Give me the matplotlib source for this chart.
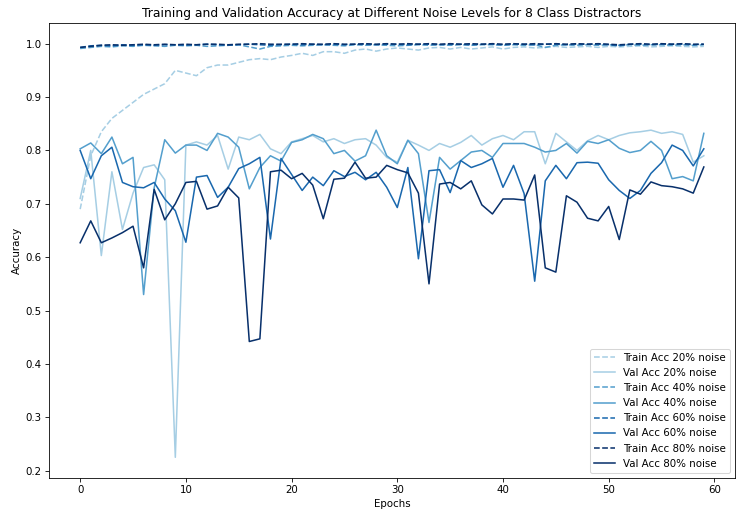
import numpy as np
import matplotlib
matplotlib.use("Agg")
import matplotlib.pyplot as plt

epochs = list(range(60))
noise_levels = ["20%", "40%", "60%", "80%"]

train_20 = [0.69, 0.79, 0.835, 0.86, 0.875, 0.89, 0.905, 0.915, 0.925, 0.95,
            0.945, 0.94, 0.955, 0.96, 0.96, 0.965, 0.97, 0.972, 0.97, 0.975,
            0.978, 0.982, 0.978, 0.985, 0.985, 0.982, 0.988, 0.99, 0.986, 0.99,
            0.992, 0.99, 0.988, 0.992, 0.993, 0.99, 0.993, 0.99, 0.992, 0.994,
            0.99, 0.993, 0.994, 0.992, 0.993, 0.995, 0.993, 0.994, 0.995, 0.993,
            0.995, 0.994, 0.995, 0.996, 0.994, 0.995, 0.996, 0.995, 0.994, 0.995]
val_20 = [0.71, 0.80, 0.603, 0.76, 0.652, 0.72, 0.768, 0.773, 0.745, 0.225,
          0.81, 0.816, 0.81, 0.828, 0.765, 0.825, 0.82, 0.83, 0.803, 0.794,
          0.816, 0.822, 0.828, 0.816, 0.822, 0.813, 0.82, 0.822, 0.81, 0.787,
          0.778, 0.819, 0.81, 0.80, 0.813, 0.806, 0.815, 0.828, 0.81, 0.822,
          0.828, 0.82, 0.835, 0.835, 0.775, 0.832, 0.816, 0.80, 0.818, 0.828,
          0.82, 0.828, 0.833, 0.835, 0.838, 0.832, 0.835, 0.83, 0.778, 0.79]
train_40 = [0.991, 0.993, 0.995, 0.994, 0.996, 0.995, 0.997, 0.996, 0.995, 0.997,
            0.996, 0.997, 0.995, 0.996, 0.997, 0.998, 0.994, 0.99, 0.995, 0.996,
            0.997, 0.996, 0.997, 0.998, 0.997, 0.996, 0.998, 0.997, 0.998, 0.997,
            0.996, 0.997, 0.998, 0.997, 0.998, 0.997, 0.998, 0.997, 0.998, 0.998,
            0.997, 0.998, 0.997, 0.998, 0.993, 0.997, 0.998, 0.997, 0.998, 0.997,
            0.998, 0.997, 0.998, 0.997, 0.998, 0.998, 0.997, 0.998, 0.997, 0.998]
val_40 = [0.803, 0.814, 0.794, 0.825, 0.775, 0.787, 0.53, 0.73, 0.82, 0.795,
          0.81, 0.81, 0.80, 0.832, 0.825, 0.806, 0.728, 0.768, 0.79, 0.78,
          0.815, 0.82, 0.83, 0.822, 0.794, 0.80, 0.78, 0.79, 0.838, 0.79,
          0.775, 0.819, 0.794, 0.665, 0.787, 0.765, 0.781, 0.797, 0.80, 0.787,
          0.813, 0.813, 0.813, 0.806, 0.797, 0.80, 0.813, 0.795, 0.817, 0.813,
          0.82, 0.804, 0.796, 0.80, 0.817, 0.80, 0.747, 0.751, 0.743, 0.832]
train_60 = [0.993, 0.996, 0.997, 0.996, 0.998, 0.997, 0.998, 0.997, 0.998, 0.998,
            0.997, 0.998, 0.999, 0.998, 0.997, 0.998, 0.999, 0.998, 0.997, 0.998,
            0.999, 0.998, 0.999, 0.998, 0.999, 0.998, 0.999, 0.999, 0.998, 0.999,
            0.999, 0.998, 0.999, 0.999, 0.998, 0.999, 0.999, 0.998, 0.999, 0.999,
            0.998, 0.999, 0.999, 0.998, 0.999, 0.999, 0.998, 0.999, 0.999, 0.999,
            0.998, 0.996, 0.999, 0.999, 0.998, 0.999, 0.999, 0.999, 0.998, 0.999]
val_60 = [0.80, 0.747, 0.79, 0.806, 0.74, 0.732, 0.73, 0.74, 0.709, 0.687,
          0.628, 0.75, 0.753, 0.712, 0.731, 0.766, 0.775, 0.787, 0.634, 0.785,
          0.755, 0.725, 0.75, 0.734, 0.762, 0.751, 0.759, 0.745, 0.759, 0.731,
          0.693, 0.768, 0.597, 0.762, 0.764, 0.721, 0.781, 0.768, 0.775, 0.785,
          0.731, 0.772, 0.719, 0.555, 0.743, 0.772, 0.747, 0.777, 0.778, 0.776,
          0.745, 0.725, 0.71, 0.725, 0.757, 0.777, 0.81, 0.80, 0.771, 0.803]
train_80 = [0.993, 0.995, 0.997, 0.998, 0.997, 0.998, 0.999, 0.998, 0.999, 0.998,
            0.999, 0.998, 0.999, 0.999, 0.998, 0.999, 0.999, 1.0, 0.999, 0.999,
            0.999, 1.0, 0.999, 0.999, 1.0, 0.999, 0.999, 1.0, 0.999, 1.0,
            0.999, 1.0, 0.999, 1.0, 0.999, 1.0, 0.999, 1.0, 0.999, 1.0,
            0.999, 1.0, 0.999, 1.0, 0.999, 1.0, 0.999, 1.0, 0.999, 1.0,
            0.999, 0.998, 0.999, 1.0, 0.999, 1.0, 0.999, 1.0, 0.999, 0.999]
val_80 = [0.627, 0.668, 0.627, 0.636, 0.646, 0.658, 0.58, 0.727, 0.67, 0.70,
          0.74, 0.742, 0.69, 0.696, 0.731, 0.711, 0.442, 0.447, 0.76, 0.763,
          0.747, 0.757, 0.735, 0.672, 0.746, 0.748, 0.778, 0.748, 0.75, 0.772,
          0.764, 0.758, 0.72, 0.55, 0.737, 0.74, 0.728, 0.743, 0.698, 0.681,
          0.709, 0.709, 0.707, 0.754, 0.58, 0.572, 0.715, 0.703, 0.673, 0.668,
          0.695, 0.633, 0.726, 0.718, 0.741, 0.734, 0.732, 0.728, 0.72, 0.769]

train_series = [train_20, train_40, train_60, train_80]
val_series = [val_20, val_40, val_60, val_80]

colors = plt.cm.Blues(np.linspace(0.35, 1.0, 4))

fig = plt.figure(figsize=(10, 516 / 74.1), dpi=74.1)
ax = fig.add_axes([49 / 741, 1 - 478 / 516, (735 - 49) / 741, (478 - 23) / 516])

for lvl, tr, va, c in zip(noise_levels, train_series, val_series, colors):
    ax.plot(epochs, tr, linestyle="--", color=c, label=f"Train Acc {lvl} noise")
    ax.plot(epochs, va, linestyle="-", color=c, label=f"Val Acc {lvl} noise")

ax.set_title("Training and Validation Accuracy at Different Noise Levels for 8 Class Distractors")
ax.set_xlabel("Epochs")
ax.set_ylabel("Accuracy")
ax.legend(loc="lower right")

fig.savefig("out.png", dpi=74.1)
